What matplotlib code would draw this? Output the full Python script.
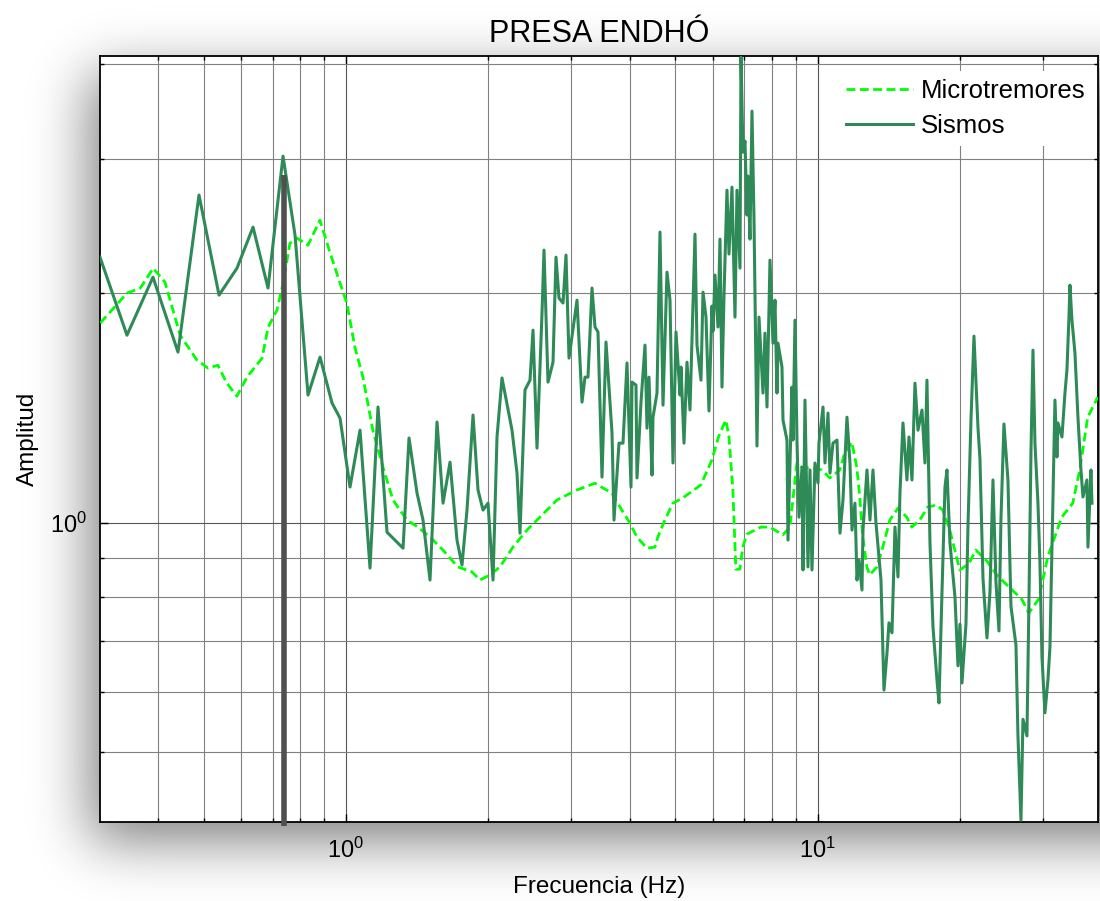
import numpy as np
import matplotlib
matplotlib.use('Agg')
import matplotlib.pyplot as plt
from matplotlib.ticker import LogLocator, NullFormatter, LogFormatterSciNotation

plt.rcParams['font.family'] = ['Liberation Sans', 'DejaVu Sans']
plt.rcParams['mathtext.fontset'] = 'custom'
plt.rcParams['mathtext.rm'] = 'Liberation Sans'
plt.rcParams['mathtext.it'] = 'Liberation Sans'
plt.rcParams['mathtext.default'] = 'regular'

# ---------------- data ----------------
title = "PRESA ENDHÓ"
xlabel = "Frecuencia (Hz)"
ylabel = "Amplitud"
series_names = ["Microtremores", "Sismos"]

micro_freq = [0.302, 0.344, 0.367, 0.391, 0.414, 0.446, 0.484, 0.511, 0.536, 0.560,
              0.588, 0.618, 0.665, 0.685, 0.715, 0.737, 0.762, 0.789, 0.832, 0.882,
              0.926, 0.973, 1.006, 1.046, 1.088, 1.142, 1.200, 1.260, 1.349, 1.423,
              1.509, 1.607, 1.729, 1.852, 1.925, 2.022, 2.123, 2.262, 2.422, 2.580,
              2.803, 3.090, 3.374, 3.509, 3.666, 3.813, 4.003, 4.142, 4.348, 4.522,
              4.588, 4.748, 4.936, 5.183, 5.658, 5.971, 6.178, 6.393, 6.488, 6.615,
              6.713, 6.846, 6.945, 7.082, 7.584, 7.924, 8.444, 8.737, 8.866, 9.041,
              9.307, 9.772, 10.21, 10.62, 11.15, 11.42, 11.82, 12.11, 12.29, 12.47,
              12.72, 12.90, 13.36, 13.75, 14.23, 14.80, 15.46, 15.84, 16.47, 17.13,
              17.89, 18.42, 19.07, 20.02, 20.92, 21.65, 22.84, 23.98, 25.68, 27.09,
              28.03, 29.43, 30.75, 32.93, 34.74, 35.95, 37.38, 39.25]
micro_amp = [1.829, 2.002, 2.032, 2.159, 2.070, 1.763, 1.635, 1.596, 1.610, 1.525,
             1.466, 1.553, 1.645, 1.806, 1.901, 2.063, 2.328, 2.364, 2.314, 2.496,
             2.266, 2.063, 1.942, 1.700, 1.553, 1.323, 1.183, 1.071, 1.008, 0.987,
             0.958, 0.921, 0.875, 0.862, 0.841, 0.854, 0.875, 0.929, 0.978, 1.017,
             1.071, 1.104, 1.127, 1.111, 1.094, 1.049, 0.999, 0.958, 0.926, 0.929,
             0.958, 1.008, 1.061, 1.078, 1.121, 1.209, 1.300, 1.364, 1.300, 1.107,
             0.869, 0.869, 0.929, 0.966, 0.987, 0.987, 0.964, 0.987, 1.071, 1.198,
             1.180, 1.180, 1.173, 1.145, 1.173, 1.235, 1.276, 1.183, 1.081, 0.958,
             0.875, 0.854, 0.875, 0.929, 1.008, 1.045, 1.017, 0.987, 1.008, 1.049,
             1.055, 1.039, 0.978, 0.867, 0.883, 0.921, 0.891, 0.854, 0.819, 0.794,
             0.761, 0.794, 0.902, 1.017, 1.061, 1.173, 1.376, 1.462]

sismos_freq = [0.3016, 0.3440, 0.3906, 0.4413, 0.4889, 0.5391, 0.5885, 0.6364, 0.6847, 0.7367,
               0.7811, 0.8323, 0.8825, 0.9357, 0.9729, 1.0216, 1.0727, 1.1263, 1.1711, 1.2236,
               1.3232, 1.3624, 1.4166, 1.4588, 1.5094, 1.5618, 1.6084, 1.6641, 1.7218, 1.7644,
               1.8079, 1.8618, 1.9077, 1.9549, 2.0031, 2.0527, 2.0930, 2.1447, 2.2520, 2.3075,
               2.3416, 2.3994, 2.4587, 2.4951, 2.5440, 2.6069, 2.6325, 2.6843, 2.7508, 2.7912,
               2.8324, 2.8884, 2.9308, 2.9741, 3.0923, 3.1688, 3.2155, 3.2629, 3.3272, 3.3763,
               3.4260, 3.4936, 3.5625, 3.6683, 3.7043, 3.7958, 3.8708, 3.9467, 4.0246, 4.0443,
               4.1239, 4.1440, 4.2259, 4.3092, 4.3512, 4.3941, 4.4588, 4.4808, 4.5688, 4.6363,
               4.7049, 4.7972, 4.8681, 4.9401, 5.0127, 5.1115, 5.1365, 5.2122, 5.2889, 5.3671,
               5.4997, 5.5534, 5.6631, 5.7189, 5.8029, 5.8885, 5.9752, 6.0048, 6.0634, 6.1527,
               6.2131, 6.2740, 6.3355, 6.4287, 6.4921, 6.5877, 6.6849, 6.7502, 6.8500, 6.8836,
               6.9514, 7.0192, 7.0877, 7.1226, 7.1925, 7.2630, 7.3342, 7.4421, 7.5155, 7.6639,
               7.7386, 7.8142, 7.9297, 8.0471, 8.1256, 8.2049, 8.2453, 8.4078, 8.4494, 8.6151,
               8.6576, 8.8282, 8.8719, 8.9585, 9.0459, 9.1350, 9.2696, 9.3155, 9.4063, 9.4981,
               9.5450, 9.6386, 9.7331, 9.8767, 10.022, 10.071, 10.271, 10.371, 10.524, 10.627,
               10.784, 10.996, 11.158, 11.323, 11.545, 11.716, 11.831, 12.005, 12.123, 12.242,
               12.423, 12.484, 12.729, 12.917, 13.108, 13.301, 13.629, 13.830, 14.034, 14.172,
               14.381, 14.593, 14.808, 14.953, 15.174, 15.472, 15.624, 15.855, 16.089, 16.326,
               16.648, 16.893, 17.058, 17.310, 17.566, 17.911, 18.087, 18.354, 18.625, 18.807,
               19.084, 19.555, 19.844, 20.039, 20.235, 20.634, 20.837, 21.144, 21.456, 21.878,
               22.093, 22.420, 22.860, 23.197, 23.540, 23.886, 24.239, 24.476, 24.837, 25.326,
               25.700, 26.335, 26.593, 26.986, 27.252, 27.786, 28.060, 28.335, 28.614, 28.893,
               29.319, 29.606, 29.896, 30.337, 30.784, 31.087, 31.392, 31.855, 32.166, 32.324,
               32.961, 33.447, 33.774, 34.107, 34.273, 34.609, 35.120, 35.637, 36.163, 36.520,
               37.236, 37.420, 37.971, 38.156]
sismos_amp = [2.232, 1.763, 2.101, 1.675, 2.693, 1.990, 2.159, 2.444, 2.033, 3.029,
              2.386, 1.471, 1.650, 1.436, 1.372, 1.114, 1.323, 0.872, 1.419, 0.972,
              0.926, 1.292, 1.094, 1.008, 0.841, 1.356, 1.061, 1.201, 0.949, 0.880,
              1.039, 1.385, 1.104, 1.039, 1.061, 0.841, 1.296, 1.549, 1.323, 1.162,
              0.969, 1.494, 1.539, 1.790, 1.253, 1.885, 2.280, 1.530, 1.625, 2.232,
              1.972, 1.943, 2.246, 1.645, 1.960, 1.440, 1.553, 1.553, 2.033, 1.807,
              1.780, 1.148, 1.727, 1.312, 1.008, 1.272, 1.272, 1.621, 1.114, 1.530,
              1.516, 1.145, 1.440, 1.711, 1.331, 1.553, 1.155, 1.376, 1.480, 2.408,
              1.427, 2.133, 1.960, 1.198, 1.780, 1.471, 1.601, 1.272, 1.625, 1.406,
              2.393, 1.711, 1.539, 2.008, 1.862, 1.402, 1.925, 1.785, 2.114, 1.807,
              2.357, 1.507, 1.984, 2.733, 2.253, 2.758, 1.862, 2.733, 2.159, 4.086,
              3.066, 3.170, 2.535, 2.852, 2.357, 3.471, 2.512, 1.261, 1.862, 1.480,
              1.774, 1.419, 2.212, 1.721, 1.960, 1.480, 1.721, 1.601, 1.364, 1.284,
              0.949, 1.507, 1.284, 1.845, 1.284, 1.017, 1.183, 0.867, 1.449, 1.049,
              0.875, 1.173, 0.867, 1.198, 1.128, 1.272, 1.419, 1.198, 1.393, 1.162,
              1.272, 1.284, 0.969, 1.071, 1.376, 1.198, 0.978, 1.061, 0.841, 0.893,
              0.816, 0.978, 1.173, 1.008, 1.173, 0.999, 0.841, 0.603, 0.674, 0.739,
              0.717, 0.987, 0.849, 1.094, 1.352, 1.138, 1.296, 1.138, 1.525, 1.323,
              1.406, 1.198, 1.539, 0.941, 0.730, 0.622, 0.580, 0.809, 1.114, 1.173,
              0.941, 0.799, 0.649, 0.736, 0.616, 0.736, 0.990, 1.364, 1.758, 1.335,
              1.212, 0.846, 0.706, 0.811, 1.138, 0.836, 0.721, 1.011, 1.348, 1.138,
              0.777, 0.691, 0.525, 0.407, 0.552, 0.525, 0.792, 1.235, 1.685, 1.272,
              1.061, 0.885, 0.666, 0.563, 0.622, 0.687, 0.929, 1.449, 1.220, 1.352,
              1.296, 1.480, 1.587, 1.862, 2.051, 1.845, 1.670, 1.376, 1.173, 1.081,
              1.138, 0.929, 1.173, 1.061]

peak_freq = 0.74     # marked fundamental frequency
peak_top = 2.86

x_limits = (0.3016, 39.3)
y_limits = (0.4047, 4.10)

# ---------------- figure ----------------
W, H = 1100, 901
fig = plt.figure(figsize=(W / 100, H / 100), dpi=100)

ax_left, ax_bottom = 100 / W, (H - 822) / H
ax_w, ax_h = (1098 - 100) / W, (822 - 56) / H

# soft drop shadow behind the axes box
bg = fig.add_axes([0, 0, 1, 1], zorder=-5)
bg.set_axis_off()
sigma = 28.0
kx = np.arange(-4 * int(sigma), 4 * int(sigma) + 1)
kern = np.exp(-0.5 * (kx / sigma) ** 2)
kern /= kern.sum()
xs = np.arange(W)
ys = np.arange(H)
dx, dy = 10, 18
mx = ((xs >= 100 - dx) & (xs <= 1098 + 60)).astype(float)
my = ((ys >= 56 + dy) & (ys <= 822 + dy)).astype(float)
pad = len(kern)
mx = np.convolve(np.pad(mx, pad, mode='edge'), kern, mode='same')[pad:-pad]
my = np.convolve(np.pad(my, pad, mode='edge'), kern, mode='same')[pad:-pad]
shadow = 1.0 - 0.5 * np.outer(my, mx)
bg.imshow(shadow, cmap='gray', vmin=0, vmax=1, extent=[0, 1, 0, 1],
          aspect='auto', origin='upper', interpolation='bilinear')

ax = fig.add_axes([ax_left, ax_bottom, ax_w, ax_h])
ax.set_facecolor('white')

ax.plot(micro_freq, micro_amp, color='#00ff00', lw=2.0, linestyle=(0, (3.2, 1.6)),
        label=series_names[0], zorder=3)
ax.plot(sismos_freq, sismos_amp, color='#2e8b57', lw=2.2, label=series_names[1],
        zorder=4)
ax.plot([peak_freq, peak_freq], [0.40, peak_top], color='#505050', lw=4.0,
        solid_capstyle='butt', zorder=6, clip_on=False)

ax.set_xscale('log')
ax.set_yscale('log')
ax.set_xlim(*x_limits)
ax.set_ylim(*y_limits)

for axis in (ax.xaxis, ax.yaxis):
    axis.set_major_locator(LogLocator(base=10))
    axis.set_minor_locator(LogLocator(base=10, subs=np.arange(2, 10)))
    axis.set_major_formatter(LogFormatterSciNotation())
    axis.set_minor_formatter(NullFormatter())

ax.grid(True, which='major', color='#555555', lw=0.8)
ax.grid(True, which='minor', color='#808080', lw=0.8)
ax.set_axisbelow(True)

ax.tick_params(which='both', direction='in', top=True, right=True)
ax.tick_params(which='major', length=6, width=1, labelsize=17, pad=9)
ax.tick_params(axis='x', which='major', pad=11)
ax.tick_params(which='minor', length=3, width=1)
for s in ax.spines.values():
    s.set_linewidth(1.3)
    s.set_color('black')

ax.set_title(title, fontsize=22, pad=10)
ax.set_xlabel(xlabel, fontsize=17.5, labelpad=10)
ax.set_ylabel(ylabel, fontsize=17.5, labelpad=8)

leg = ax.legend(loc='upper right', bbox_to_anchor=(1.0, 0.987), fontsize=18.5,
                frameon=True, fancybox=False, handlelength=2.6, handletextpad=0.3,
                labelspacing=0.45, borderaxespad=0.2, borderpad=0.3)
leg.get_frame().set_edgecolor('none')
leg.get_frame().set_facecolor('white')
leg.get_frame().set_alpha(1.0)

fig.savefig('out.png', dpi=100)
